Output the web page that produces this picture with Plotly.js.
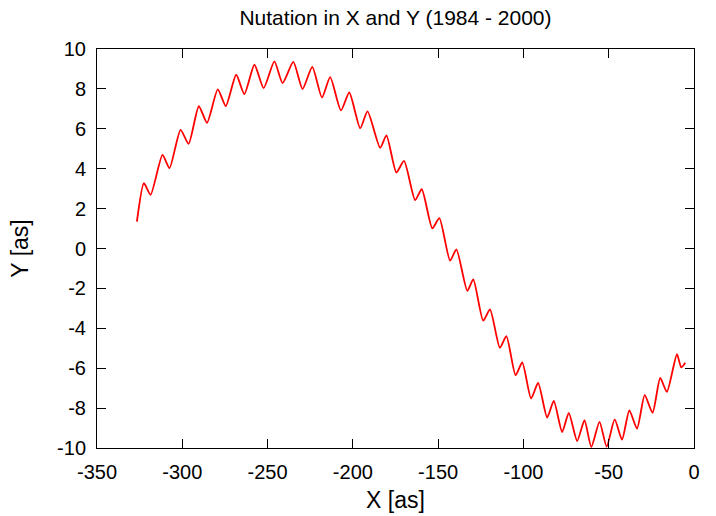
<!DOCTYPE html>
<html>
<head>
<meta charset="utf-8">
<script src="https://cdn.plot.ly/plotly-3.0.1.min.js"></script>
<style>html,body{margin:0;padding:0;background:#fff;}#chart{width:716px;height:516px;}</style>
</head>
<body>
<div id="chart"></div>
<script>
// Nutation X (arcsec) (start, peaks/troughs, end)
const xValues = [
  -326.6, -322.5, -318.6, -311.6, -307.5, -301.0, -296.3, -290.3, -285.5, -279.2,
  -274.5, -268.4, -263.6, -257.7, -252.3, -246.0, -241.2, -234.9, -229.5, -223.8,
  -218.1, -213.3, -207.0, -202.1, -195.7, -191.4, -184.0, -180.3, -174.5, -170.0,
  -163.5, -159.6, -153.4, -149.3, -143.0, -139.3, -132.9, -129.4, -123.6, -119.6,
  -113.8, -110.0, -104.6, -100.7, -95.5, -91.4, -86.1, -82.2, -77.3, -73.4,
  -68.5, -64.2, -60.2, -55.4, -51.2, -46.5, -42.2, -37.9, -33.4, -28.9,
  -24.3, -19.8, -15.9, -10.0, -7.5, -5.1
];
// Nutation Y (arcsec)
const yValues = [
  1.35, 3.27, 2.69, 4.69, 4.03, 5.95, 5.25, 7.13, 6.30, 7.98,
  7.14, 8.71, 7.74, 9.21, 8.04, 9.38, 8.29, 9.35, 7.99, 9.10,
  7.57, 8.59, 6.92, 7.82, 6.03, 6.87, 5.05, 5.67, 3.81, 4.39,
  2.43, 2.97, 1.01, 1.52, -0.61, -0.04, -2.12, -1.55, -3.62, -3.05,
  -4.98, -4.39, -6.35, -5.71, -7.52, -6.74, -8.47, -7.64, -9.20, -8.24,
  -9.65, -8.61, -9.95, -8.69, -9.93, -8.57, -9.58, -8.11, -9.03, -7.35,
  -8.24, -6.49, -7.19, -5.30, -5.96, -5.73
];
const xTicks = [-350, -300, -250, -200, -150, -100, -50, 0];
const yTicks = [-10, -8, -6, -4, -2, 0, 2, 4, 6, 8, 10];
const chartTitle = 'Nutation in X and Y (1984 - 2000)';
const xTitle = 'X [as]';
const yTitle = 'Y [as]';

const fontFam = '"Liberation Sans", Arial, sans-serif';
const axisCommon = {
  showgrid: false, zeroline: false, showline: true, linecolor: '#000', linewidth: 1,
  mirror: 'allticks', ticks: 'inside', ticklen: 9, tickwidth: 1, tickcolor: '#000',
  tickfont: {family: fontFam, size: 20, color: '#000'}, automargin: false
};

const trace = {
  x: xValues, y: yValues, type: 'scatter', mode: 'lines',
  line: {color: '#ff0000', width: 1.8, shape: 'spline', smoothing: 0.6},
  hoverinfo: 'skip'
};

const layout = {
  width: 716, height: 516,
  margin: {l: 97, r: 22, t: 49, b: 68},
  paper_bgcolor: '#fff', plot_bgcolor: '#fff',
  showlegend: false,
  font: {family: fontFam, color: '#000'},
  title: {text: chartTitle, font: {family: fontFam, size: 21, color: '#000'},
          x: 0.5, xref: 'paper', y: 1 - 18/516, yref: 'container', yanchor: 'middle'},
  xaxis: Object.assign({}, axisCommon, {
    range: [-350, 0], tickvals: xTicks, ticktext: xTicks.map(String),
    ticklabelstandoff: 6,
    title: {text: xTitle, font: {family: fontFam, size: 23, color: '#000'}, standoff: 9}
  }),
  yaxis: Object.assign({}, axisCommon, {
    range: [-10, 10], tickvals: yTicks, ticktext: yTicks.map(String),
    ticklabelstandoff: 6,
    title: {text: yTitle, font: {family: fontFam, size: 23, color: '#000'}, standoff: 22}
  })
};

Plotly.newPlot('chart', [trace], layout, {staticPlot: true, displayModeBar: false});
</script>
</body>
</html>
